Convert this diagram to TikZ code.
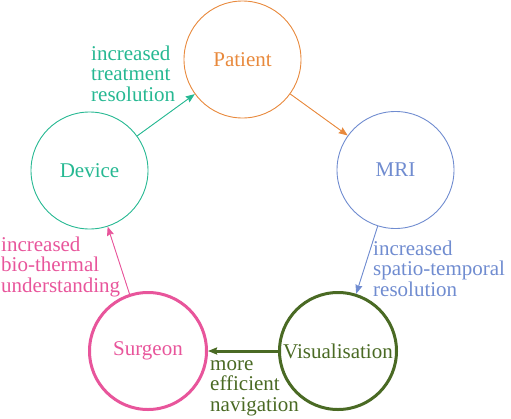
\documentclass[tikz,border=0pt]{standalone}
\usepackage{fontspec}
\setmainfont{Liberation Serif}
\usetikzlibrary{arrows.meta}

\definecolor{patcol}{RGB}{232,137,60}
\definecolor{devcol}{RGB}{38,184,146}
\definecolor{mricol}{RGB}{112,140,208}
\definecolor{surcol}{RGB}{232,85,155}
\definecolor{viscol}{RGB}{74,106,36}

\begin{document}
\begin{tikzpicture}[
  x=1pt, y=-1pt,
  font=\fontsize{21}{20.5}\selectfont,
  >={Stealth[length=9pt, width=7pt, inset=1pt]},
  stagenode/.style={circle, draw=#1, text=#1, minimum size=117pt, inner sep=0pt, line width=0.9pt},
  gainlabel/.style={anchor=base west, align=left, inner sep=0pt, text=#1},
  gainmap/.style={->, draw=#1, fill=#1, line width=0.9pt}
]
  \useasboundingbox (0,0) rectangle (511,418);
  \node[stagenode=patcol] (pat) at (242.5,59.5) {Patient};
  \node[stagenode=mricol] (mri) at (395.5,170) {MRI};
  \node[stagenode=viscol, line width=3pt] (vis) at (338,351) {Visualisation};
  \node[stagenode=surcol, line width=3pt] (sur) at (148,351) {Surgeon};
  \node[stagenode=devcol] (dev) at (89.5,170.5) {Device};

  \draw[gainmap=devcol] (dev) -- (pat);
  \draw[gainmap=patcol] (pat) -- (mri);
  \draw[gainmap=mricol] (mri) -- (vis);
  \draw[gainmap=viscol, line width=3pt] (vis) -- (sur);
  \draw[gainmap=surcol] (sur) -- (dev);

  % base anchor sits on the last line
  \node[gainlabel=devcol] (lbltreat) at (91,101) {increased\\treatment\\resolution};
  \node[gainlabel=mricol] (lblspat) at (373,296) {increased\\spatio-temporal\\resolution};
  \node[gainlabel=viscol] (lblnav) at (210,411) {more\\efficient\\navigation};
  \node[gainlabel=surcol] (lblbio) at (1,292) {increased\\bio-thermal\\understanding};
\end{tikzpicture}
\end{document}
